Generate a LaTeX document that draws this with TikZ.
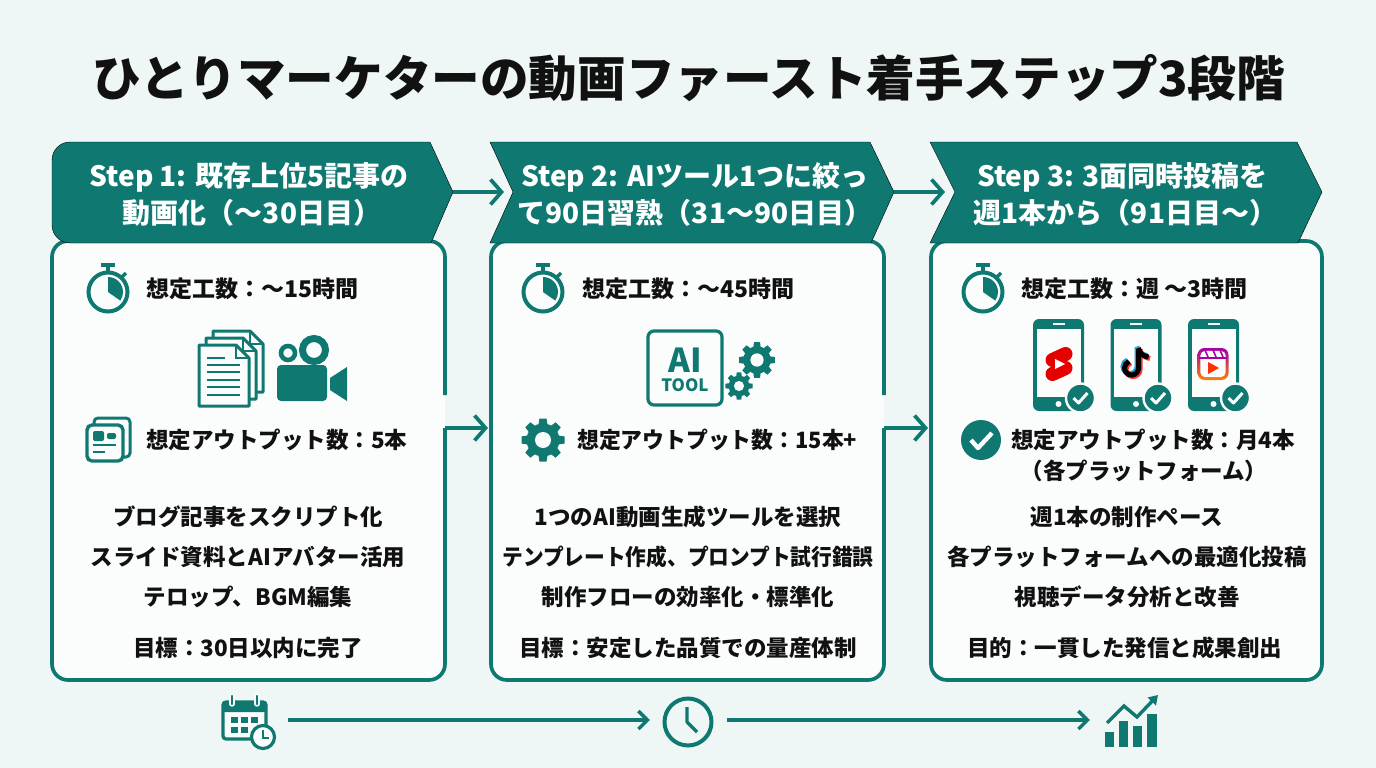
\documentclass[tikz,border=0pt]{standalone}
\usepackage{fontspec}
\setmainfont{Noto Sans CJK JP}
\usetikzlibrary{arrows.meta, calc}
\definecolor{teal1}{HTML}{0E7871}
\definecolor{bgtint}{HTML}{EEF7F6}
\definecolor{cardfill}{HTML}{FBFDFD}
\definecolor{ink}{HTML}{111111}
\tikzset{
    flow/.style = {draw=teal1, line width=3.7pt, -{Straight Barb[length=11pt,width=25pt,line width=3.7pt]}},
    timeflow/.style = {draw=teal1, line width=3.6pt, -{Straight Barb[length=9pt,width=18pt,line width=3.4pt]}},
    banner/.style = {fill=teal1},
    bannertxt/.style = {text=white, font=\fontsize{28}{37}\selectfont\bfseries, align=center, inner sep=0pt},
    rowtxt/.style = {text=ink, font=\fontsize{23}{23}\selectfont\bfseries, inner sep=0pt},
    listtxt/.style = {text=ink, font=\fontsize{22.5}{23}\selectfont\bfseries, inner sep=0pt},
    pics/card/.style = {
        code = {%
        \coordinate (-gaptop) at (393,154);
        \coordinate (-out) at (393,187);
        \fill[cardfill, rounded corners=16pt] (0,0) rectangle (393,439);
        \draw[teal1, line width=3.7pt, rounded corners=16pt] (-gaptop) -- (393,0) -- (0,0) -- (0,439) -- (393,439) -- (-out);
        }
    },
    pics/stopwatch/.style = {
        code = {%
        \draw[teal1, line width=4pt] (0,0) circle[radius=19.5];
        \draw[teal1, line width=3.6pt] (-7,-27) -- (7,-27);
        \draw[teal1, line width=3.6pt] (0,-27) -- (0,-20);
        \draw[teal1, line width=3.4pt] (14,-15) -- (18,-19);
        \fill[teal1] (0,0) -- (0,-15) arc[start angle=-90, end angle=35, radius=15] -- cycle;
        }
    },
    pics/cog/.style = {
        code = {%
        \fill[teal1] (0,0) circle[radius=16.5];
        \foreach \a in {0,45,...,315}
            \fill[teal1, rotate=\a] (-4.5,-15) -- (-3.6,-21.5) -- (3.6,-21.5) -- (4.5,-15) -- cycle;
        \fill[cardfill] (0,0) circle[radius=8];
        }
    },
    pics/page/.style = {
        code = {%
        \draw[teal1, line width=3pt, fill=cardfill, line join=round] (0,0) -- (37,0) -- (50,13) -- (50,61) -- (0,61) -- cycle;
        \draw[teal1, line width=2.4pt] (37,0) -- (37,13) -- (50,13);
        }
    },
    pics/phone/.style = {
        code = {%
        \fill[teal1, rounded corners=6pt] (-25.5,-46) rectangle (25.5,46);
        \fill[cardfill] (-22,-36) rectangle (22,32);
        \draw[cardfill, line width=1.4pt] (-6,-41) -- (6,-41);
        \fill[cardfill] (0,39) circle[radius=3];
        \fill[teal1, draw=cardfill, line width=2.4pt] (22,33) circle[radius=14.5];
        \draw[cardfill, line width=3pt, line join=round] (15,33) -- (20,38) -- (29,28);
        }
    },
    pics/tknote/.style = {
        code = {%
        \draw[#1, line width=5pt] (3,-14) -- (3,5) arc[start angle=0, end angle=250, radius=7];
        \draw[#1, line width=5pt] (3,-15) .. controls (4,-9) and (8,-7) .. (13,-6);
        }
    },
}
\begin{document}
\begin{tikzpicture}[x=1pt, y=-1pt]
\useasboundingbox (0,0) rectangle (1376,768);
\fill[bgtint] (0,0) rectangle (1376,768);

\node[text=ink, font=\fontsize{48.6}{49}\selectfont\bfseries, inner sep=0pt] (title) at (689,78) {ひとりマーケターの動画ファースト着手ステップ3段階};

% cards
\pic (c1) at (52,241) {card};
\pic (c2) at (491,241) {card};
\fill[cardfill, rounded corners=16pt] (931,241) rectangle (1322,680);
\draw[teal1, line width=3.7pt, rounded corners=16pt] (931,241) rectangle (1322,680);

% banners
\draw[banner, rounded corners=0pt] (52,160) arc[start angle=180, end angle=270, radius=18] -- (430,142) -- (453,192) -- (431,243) -- (70,243) arc[start angle=90, end angle=180, radius=18] -- cycle;
\draw[banner] (490,142) -- (870,142) -- (894,192) -- (871,243) -- (490,243) -- (513,192) -- cycle;
\draw[banner] (930,142) -- (1297,142) -- (1322,192) -- (1298,243) -- (930,243) -- (955,192) -- cycle;
\coordinate (b1tip) at (453,192);
\coordinate (b2tip) at (894,192);
\coordinate (b2in) at (504,192);
\coordinate (b3in) at (945,192);
\coordinate (c2in) at (488,428);
\coordinate (c3in) at (928,428);

\node[bannertxt] (b1) at (249,194) {Step 1: 既存上位5記事の\\\hspace*{6pt}動画化（〜30日目）};
\node[bannertxt] (b2) at (695,194) {Step 2: AIツール1つに絞っ\\て90日習熟（31〜90日目）};
\node[bannertxt] (b3) at (1122.5,194) {Step 3: 3面同時投稿を\\\hspace*{6pt}週1本から（91日目〜）};

% step arrows
\draw[flow] (b1tip) -- (b2in);
\draw[flow] (b2tip) -- (b3in);
\draw[flow] (c1-out) -- (c2in);
\draw[flow] (c2-out) -- (c3in);

% step 1
\pic at (108,292) {stopwatch};
\node[rowtxt, anchor=west] (c1cost) at (146,289) {想定工数：〜15時間};
\pic at (213,331) {page};
\pic at (206,338) {page};
\pic at (199,345) {page};
\foreach \y/\e in {358/225,365/240,372/240,380/240,387/240,395/240}
    \draw[teal1, line width=2.6pt] (207,\y) -- (\e,\y);
\fill[teal1, rounded corners=4pt] (277,365) rectangle (327,401);
\draw[teal1, line width=4.6pt] (288,353) circle[radius=7];
\draw[teal1, line width=7pt] (314,350) circle[radius=11.5];
\fill[teal1] (330,378) -- (347,367) -- (347,401) -- (330,390) -- cycle;
\draw[teal1, line width=3pt, rounded corners=4pt] (94,424) -- (94,418) -- (130,418) -- (130,457) -- (124,457);
\draw[teal1, line width=3.4pt, fill=cardfill, rounded corners=5pt] (87,425) rectangle (123,461);
\fill[teal1, rounded corners=2pt] (93,431) rectangle (104,441);
\fill[teal1, rounded corners=2pt] (107,433) rectangle (116,439);
\draw[teal1, line width=2.4pt] (93,445) -- (116,445);
\draw[teal1, line width=2.4pt] (93,452) -- (105,452);
\node[listtxt, anchor=west] (c1out) at (146,440) {想定アウトプット数：5本};
\node[listtxt] (c1a) at (248,517) {ブログ記事をスクリプト化};
\node[listtxt] (c1b) at (248,557) {スライド資料とAIアバター活用};
\node[listtxt] (c1c) at (248,597) {テロップ、BGM編集};
\node[listtxt] (c1d) at (248,648) {目標：30日以内に完了};

% step 2
\pic at (543,292) {stopwatch};
\node[rowtxt, anchor=west] (c2cost) at (582,289) {想定工数：〜45時間};
\draw[teal1, line width=3.2pt, fill=cardfill, rounded corners=6pt] (648,331) rectangle (722,405);
\node[text=teal1, font=\fontsize{33}{33}\selectfont\bfseries, inner sep=0pt] (ai) at (685,360) {AI};
\node[text=teal1, font=\fontsize{17}{17}\selectfont\bfseries, inner sep=0pt] (tool) at (685,385) {TOOL};
\pic[scale=.83] at (757,360) {cog};
\pic[scale=.63] at (739,386) {cog};
\pic at (543,440) {cog};
\node[listtxt, anchor=west] (c2out) at (577,440) {\scalebox{.97}[1]{想定アウトプット数：15本+}};
\node[listtxt] (c2a) at (688,517) {1つのAI動画生成ツールを選択};
\node[listtxt] (c2b) at (688,557) {\scalebox{.92}[1]{テンプレート作成、プロンプト試行錯誤}};
\node[listtxt] (c2c) at (688,597) {制作フローの効率化・標準化};
\node[listtxt] (c2d) at (688,648) {目標：安定した品質での量産体制};

% step 3
\pic at (983,292) {stopwatch};
\node[rowtxt, anchor=west] (c3cost) at (1021,289) {想定工数：週 〜3時間};
\pic at (1058.5,365) {phone};
\pic at (1136,365) {phone};
\pic at (1213.5,365) {phone};
% shorts logo
\begin{scope}[shift={(1059,364)}]
\draw[red!90!black, line width=14pt, line cap=round] (-6.5,-4) -- (6.5,-10);
\draw[red!90!black, line width=14pt, line cap=round] (-6.5,10) -- (6.5,4);
\draw[red!90!black, line width=11pt] (-3,-3) -- (3,3);
\fill[white] (-4,-5) -- (6,0) -- (-4,5) -- cycle;
\end{scope}
% tiktok logo
\pic at (1134,361.5) {tknote=cyan!70!teal1};
\pic at (1137,364.5) {tknote=red!80!white};
\pic at (1135.5,363) {tknote=black};
% reels logo
\shade[rounded corners=7pt, top color=violet!70!magenta, bottom color=orange] (1197.5,348) rectangle (1228.5,380);
\fill[cardfill, rounded corners=5pt] (1200.3,350.8) rectangle (1225.7,377.2);
\draw[violet!70!magenta, line width=2pt] (1199,357.5) -- (1227,357.5);
\foreach \x in {1205,1213,1220}
    \draw[violet!70!magenta, line width=1.6pt] (\x,350) -- (\x+3,357);
\fill[red!65!orange] (1208,362) -- (1219,368) -- (1208,374) -- cycle;
\fill[teal1] (981,440) circle[radius=20];
\draw[cardfill, line width=4.4pt, line join=round] (971,440) -- (978,448) -- (992,433);
\node[listtxt] (c3out) at (1153,440) {想定アウトプット数：月4本};
\node[listtxt] (c3sub) at (1144,471) {（各プラットフォーム）};
\node[listtxt] (c3a) at (1127,517) {週1本の制作ペース};
\node[listtxt] (c3b) at (1127,557) {各プラットフォームへの最適化投稿};
\node[listtxt] (c3c) at (1127,597) {視聴データ分析と改善};
\node[listtxt] (c3d) at (1124.5,648) {目的：一貫した発信と成果創出};

% timeline
\node[minimum width=54pt, minimum height=10pt, inner sep=0pt] (cal) at (249,720) {};
\node[minimum width=50pt, minimum height=10pt, inner sep=0pt] (clk) at (688,720) {};
\node[minimum width=54pt, minimum height=10pt, inner sep=0pt] (chart) at (1131,720) {};
\draw[timeflow, shorten <=12pt, shorten >=13pt] (cal.east) -- (clk.west);
\draw[timeflow, shorten <=14pt, shorten >=14pt] (clk.east) -- (chart.west);

% calendar
\draw[teal1, line width=3.2pt, fill=cardfill, rounded corners=3pt] (223,702) rectangle (266,739);
\fill[teal1, rounded corners=3pt] (222,701) rectangle (267,712);
\foreach \x in {232,257} {
    \draw[cardfill, line width=5.4pt, line cap=round] (\x,696) -- (\x,704);
    \draw[teal1, line width=2.4pt, line cap=round] (\x,696) -- (\x,704);
}
\foreach \x in {231,241,251}
    \fill[teal1] (\x,717) rectangle (\x+6.5,723);
\foreach \x in {231,241}
    \fill[teal1] (\x,727) rectangle (\x+6.5,733);
\draw[teal1, line width=3.2pt, fill=cardfill] (263,737) circle[radius=11.5];
\draw[teal1, line width=2.6pt] (263,730) -- (263,738) -- (269,738);

% clock
\draw[teal1, line width=4pt] (688,722) circle[radius=23.5];
\draw[teal1, line width=3.2pt, line join=round] (687,707) -- (687,722) -- (697,732);

% growth chart
\fill[teal1] (1105,732) rectangle (1114,747);
\fill[teal1] (1119,721) rectangle (1128,747);
\fill[teal1] (1133,726) rectangle (1142,747);
\fill[teal1] (1147,714) rectangle (1157,747);
\draw[teal1, line width=3.4pt, -{Triangle[length=9pt,width=11pt]}] (1107,723) -- (1124,706) -- (1137,717) -- (1158,695);
\end{tikzpicture}
\end{document}
